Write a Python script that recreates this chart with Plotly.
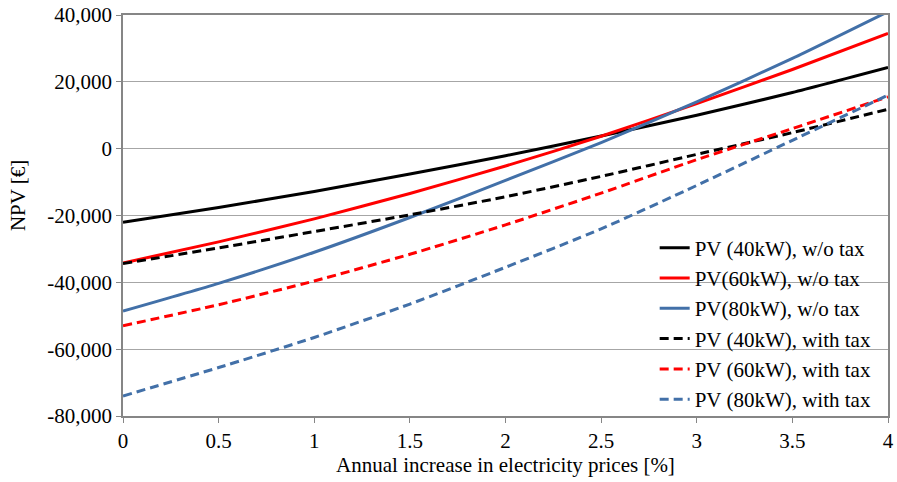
import plotly.graph_objects as go

x_vals = [0, 0.5, 1, 1.5, 2, 2.5, 3, 3.5, 4]

pv40_wo = [-22000, -17600, -12800, -7600, -2100, 3800, 10000, 16800, 24300]
pv60_wo = [-34200, -27900, -21000, -13400, -5200, 3700, 13500, 23700, 34500]
pv80_wo = [-48600, -40300, -31000, -20600, -9500, 1800, 14000, 27000, 41000]
pv40_tax = [-34400, -29700, -24800, -19800, -14400, -8300, -1700, 4800, 11800]
pv60_tax = [-53000, -46700, -39600, -31600, -22800, -13300, -3300, 6000, 15500]
pv80_tax = [-74000, -65500, -56500, -46500, -35500, -24000, -11000, 2500, 16000]

y_tick_vals = [-80000, -60000, -40000, -20000, 0, 20000, 40000]
y_tick_text = ["-80,000", "-60,000", "-40,000", "-20,000", "0", "20,000", "40,000"]
x_tick_vals = [0, 0.5, 1, 1.5, 2, 2.5, 3, 3.5, 4]
x_tick_text = ["0", "0.5", "1", "1.5", "2", "2.5", "3", "3.5", "4"]

names = ["PV (40kW), w/o tax", "PV(60kW), w/o tax", "PV(80kW), w/o tax",
         "PV (40kW), with tax", "PV (60kW), with tax", "PV (80kW), with tax"]
series = [pv40_wo, pv60_wo, pv80_wo, pv40_tax, pv60_tax, pv80_tax]
colors = ["#000000", "#FF0000", "#4270A8", "#000000", "#FF0000", "#4270A8"]
dashes = ["solid", "solid", "solid", "9px,5px", "9px,5px", "9px,5px"]

fig = go.Figure()
for i, (n, s, c, d) in enumerate(zip(names, series, colors, dashes)):
    fig.add_trace(go.Scatter(x=x_vals, y=s, mode="lines", name=n,
                             line=dict(color=c, width=3, dash=d, shape="spline", smoothing=0.6),
                             legendgroup=f"g{i}"))

font = "Liberation Serif"
fs = 21
tickfont = dict(family=font, size=fs, color="black")
fig.update_layout(
    width=897, height=482,
    margin=dict(l=123, r=9, t=15, b=66),
    paper_bgcolor="white", plot_bgcolor="white",
    font=dict(family=font, size=fs, color="black"),
    showlegend=True,
    legend=dict(x=0.695, xanchor="left", y=0.47, yanchor="top",
                bgcolor="rgba(0,0,0,0)", borderwidth=0,
                font=dict(family=font, size=fs, color="black"),
                tracegroupgap=0),
    xaxis=dict(range=[0, 4], tickvals=x_tick_vals, ticktext=x_tick_text, showgrid=False,
               showline=True, linecolor="#868686", linewidth=1.5, mirror=True,
               ticks="outside", ticklen=5, tickcolor="#868686", tickfont=tickfont,
               automargin=False,
               title=dict(text="Annual increase in electricity prices [%]", standoff=4,
                          font=dict(family=font, size=fs, color="black")),
               zeroline=False),
    yaxis=dict(range=[-80000, 40000], tickvals=y_tick_vals, ticktext=y_tick_text,
               showgrid=True, gridcolor="#A6A6A6", gridwidth=1.3,
               showline=True, linecolor="#868686", linewidth=1.5, mirror=True,
               ticks="outside", ticklen=5, tickcolor="#868686", tickfont=tickfont,
               automargin=False,
               zeroline=False),
    annotations=[dict(text="NPV [€]", textangle=-90, xref="paper", yref="paper",
                      x=-0.137, y=0.549, xanchor="center", yanchor="middle",
                      showarrow=False, font=dict(family=font, size=fs, color="black"))],
)

fig.write_html("out.html", config={"displayModeBar": False},
               post_script="document.body.style.margin='0';")
